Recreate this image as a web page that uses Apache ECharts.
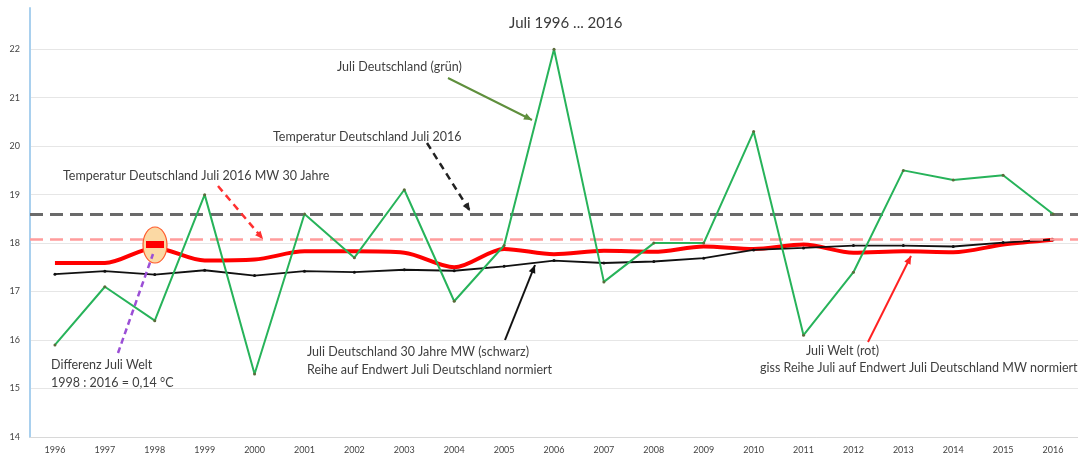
<!DOCTYPE html>
<html>
<head>
<meta charset="utf-8">
<script src="https://cdn.jsdelivr.net/npm/echarts@6/dist/echarts.min.js"></script>
<style>
html,body{margin:0;padding:0;background:#fff}
#chart{width:1078px;height:459px}
</style>
</head>
<body>
<div id="chart"></div>
<script>
// Jahre
var years = ['1996','1997','1998','1999','2000','2001','2002','2003','2004','2005','2006',
             '2007','2008','2009','2010','2011','2012','2013','2014','2015','2016'];
// Juli Deutschland (grün)
var deutschland = [15.9,17.1,16.4,19.0,15.3,18.6,17.7,19.1,16.8,17.95,22.0,
                   17.2,18.0,18.0,20.3,16.1,17.4,19.5,19.3,19.4,18.6];
// Juli Deutschland 30 Jahre MW (schwarz)
var mw30 = [17.36,17.42,17.35,17.44,17.33,17.42,17.4,17.45,17.43,17.52,17.64,
            17.59,17.62,17.69,17.86,17.9,17.95,17.95,17.93,18.01,18.07];
// Juli Welt (rot)
var welt = [17.59,17.59,17.9,17.64,17.66,17.83,17.83,17.8,17.5,17.88,17.77,
            17.84,17.82,17.93,17.88,17.97,17.8,17.83,17.81,17.97,18.07];
// Referenzlinien
var refJuli2016 = 18.6;
var refMW2016 = 18.07;

var FONT = 'Lato, "Liberation Sans", sans-serif';

function txt(s, x, y, size) {
    return {
        type: 'text', z: 100,
        style: {text: s, x: x, y: y, fill: '#3f3f3f', font: (size || 12.5) + 'px ' + FONT,
                textVerticalAlign: 'middle', verticalAlign: 'middle'}
    };
}

function arrow(x1, y1, x2, y2, color, width, dash, head) {
    var els = [{
        type: 'line', z: 90,
        shape: {x1: x1, y1: y1, x2: x2, y2: y2},
        style: {stroke: color, lineWidth: width, lineDash: dash || null}
    }];
    if (head) {
        var dx = x2 - x1, dy = y2 - y1, l = Math.sqrt(dx * dx + dy * dy);
        var ux = dx / l, uy = dy / l, len = 8, w = 3.5;
        var bx = x2 - ux * len, by = y2 - uy * len;
        els.push({
            type: 'polygon', z: 91,
            shape: {points: [[x2, y2], [bx - uy * w, by + ux * w], [bx + uy * w, by - ux * w]]},
            style: {fill: color}
        });
    }
    return els;
}

var graphics = [].concat(
    [txt('Juli Deutschland (grün)', 337, 67)],
    arrow(448, 78, 532, 120, '#5f8f3c', 2, null, true),
    [txt('Temperatur Deutschland Juli 2016', 273, 137)],
    arrow(427, 143, 470, 211, '#222', 2.5, [7, 5], true),
    [txt('Temperatur Deutschland Juli 2016 MW 30 Jahre', 63, 176)],
    arrow(218, 186, 263, 239, '#ff3030', 2.5, [7, 5], true),
    [txt('Differenz Juli Welt', 51, 365), txt('1998 : 2016 = 0,14 °C', 51, 383)],
    arrow(118, 353, 153, 254, '#9b4fd6', 2.5, [6, 4], false),
    [{
        type: 'ellipse', z: 80,
        shape: {cx: 155, cy: 245, rx: 12, ry: 18},
        style: {fill: '#fbd9a4', stroke: '#ff5a2a', lineWidth: 1.2}
    }, {
        type: 'rect', z: 81,
        shape: {x: 146, y: 241, width: 18, height: 7},
        style: {fill: '#ff0000'}
    }],
    [txt('Juli Deutschland 30 Jahre MW (schwarz)', 307, 352),
     txt('Reihe auf Endwert Juli Deutschland normiert', 307, 370)],
    arrow(505, 340, 535, 265, '#111', 2, null, true),
    [txt('Juli Welt (rot)', 806, 351),
     txt('giss Reihe Juli auf Endwert Juli Deutschland MW normiert', 760, 368)],
    arrow(868, 342, 911, 256, '#ff2020', 2, null, true)
);

var myChart = echarts.init(document.getElementById('chart'));
var option = {
    animation: false,
    backgroundColor: '#fff',
    title: {
        text: 'Juli 1996 ... 2016',
        left: 504, top: 11,
        textStyle: {fontSize: 15, fontWeight: 'normal', color: '#3a3a3a', fontFamily: FONT}
    },
    grid: {left: 30, top: 8, width: 1050, bottom: 22, containLabel: false},
    xAxis: {
        type: 'category',
        data: years,
        boundaryGap: true,
        axisLine: {lineStyle: {color: '#d8d8d8', width: 1}},
        axisTick: {show: false},
        axisLabel: {fontSize: 9, color: '#444', margin: 9, fontFamily: FONT}
    },
    yAxis: {
        type: 'value',
        min: 14, max: 22.85, interval: 1,
        axisLine: {show: true, lineStyle: {color: '#a9d0ee', width: 2}},
        axisTick: {show: false},
        axisLabel: {
            fontSize: 9, color: '#444', margin: 10, fontFamily: FONT, showMaxLabel: false,
            formatter: function (v) { return Math.abs(v - Math.round(v)) < 1e-6 ? String(Math.round(v)) : ''; }
        },
        splitLine: {showMaxLine: false, lineStyle: {color: '#e6e6e6', width: 1}}
    },
    series: [
        {
            name: 'Juli Welt (rot)',
            type: 'line',
            data: welt,
            smooth: 0.3,
            symbol: 'none',
            lineStyle: {color: '#ff0000', width: 4},
            z: 3,
            markLine: {
                silent: true,
                symbol: 'none',
                label: {show: false},
                data: [
                    {yAxis: refJuli2016, lineStyle: {color: '#6a6a6a', width: 3, type: [13, 7]}},
                    {yAxis: refMW2016, lineStyle: {color: '#ff9c9c', width: 2.5, type: [13, 7]}}
                ]
            }
        },
        {
            name: 'Juli Deutschland 30 Jahre MW (schwarz)',
            type: 'line',
            data: mw30,
            symbol: 'circle',
            symbolSize: 3,
            itemStyle: {color: '#111'},
            lineStyle: {color: '#111', width: 1.8},
            z: 4
        },
        {
            name: 'Juli Deutschland (grün)',
            type: 'line',
            data: deutschland,
            symbol: 'circle',
            symbolSize: 3,
            itemStyle: {color: '#5a6b3a'},
            lineStyle: {color: '#27b35a', width: 2},
            z: 5
        }
    ],
    graphic: graphics
};
myChart.setOption(option);
</script>
</body>
</html>
